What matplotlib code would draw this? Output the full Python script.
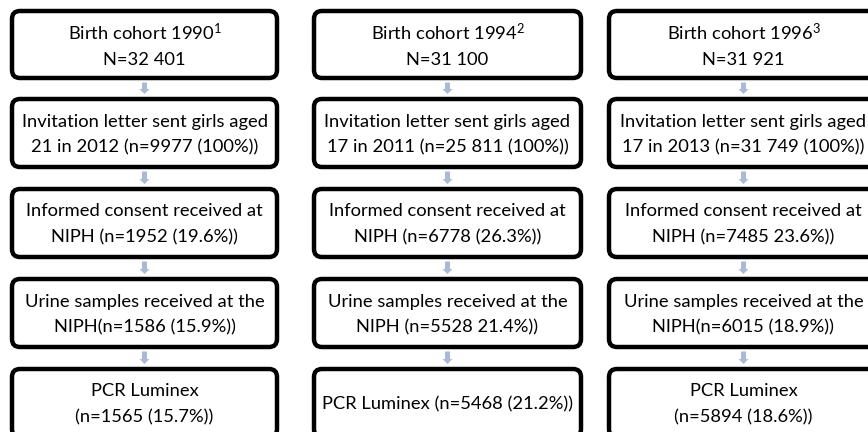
import matplotlib
matplotlib.use("Agg")
import matplotlib.pyplot as plt
from matplotlib.patches import FancyBboxPatch, FancyArrow

plt.rcParams["mathtext.fontset"] = "custom"
plt.rcParams["mathtext.rm"] = "Lato"
plt.rcParams["mathtext.it"] = "Lato"
plt.rcParams["mathtext.bf"] = "Lato:bold"

# ---- data ----
cohorts = ["Birth cohort 1990$^{1}$", "Birth cohort 1994$^{2}$", "Birth cohort 1996$^{3}$"]
cohort_n = ["N=32 401", "N=31 100", "N=31 921"]
invitations = [["Invitation letter sent girls aged", "21 in 2012 (n=9977 (100%))"],
               ["Invitation letter sent girls aged", "17 in 2011 (n=25 811 (100%))"],
               ["Invitation letter sent girls aged", "17 in 2013 (n=31 749 (100%))"]]
consents = [["Informed consent received at", "NIPH (n=1952 (19.6%))"],
            ["Informed consent received at", "NIPH (n=6778 (26.3%))"],
            ["Informed consent received at", "NIPH (n=7485 23.6%))"]]
urine = [["Urine samples received at the", "NIPH(n=1586 (15.9%))"],
         ["Urine samples received at the", "NIPH (n=5528 21.4%))"],
         ["Urine samples received at the", "NIPH(n=6015 (18.9%))"]]
pcr = [["PCR Luminex", "(n=1565 (15.7%))"],
       ["PCR Luminex (n=5468 (21.2%))"],
       ["PCR Luminex", "(n=5894 (18.6%))"]]

# ---- layout ----
W, H = 868, 432
fig = plt.figure(figsize=(W / 100, H / 100), dpi=100)
ax = fig.add_axes([0, 0, 1, 1])
ax.set_xlim(0, W)
ax.set_ylim(H, 0)
ax.axis("off")

col_x = [(12, 277), (314, 581), (609, 878)]
row_y = [(11, 78), (99, 167), (189, 257), (279, 347), (369, 437)]
FONT = "Lato"
FS = 13.2
arrow_color = "#A8BAD8"

rows = [[[c, n] for c, n in zip(cohorts, cohort_n)], invitations, consents, urine, pcr]

for ci, (x0, x1) in enumerate(col_x):
    cx = (x0 + x1) / 2
    for ri, (y0, y1) in enumerate(row_y):
        box = FancyBboxPatch((x0, y0), x1 - x0, y1 - y0,
                             boxstyle="round,pad=0,rounding_size=8",
                             linewidth=3.2, edgecolor="black", facecolor="white",
                             zorder=2)
        ax.add_patch(box)
        lines = rows[ri][ci]
        cy = (y0 + y1) / 2
        spacing = 28 if ri == 0 else 26
        n = len(lines)
        for li, txt in enumerate(lines):
            ty = cy + (li - (n - 1) / 2) * spacing
            ax.text(cx, ty, txt, ha="center", va="center_baseline", fontsize=FS,
                    family=FONT, color="black", zorder=3)
        if ri < len(row_y) - 1:
            ny0 = row_y[ri + 1][0]
            ya = y1 + 4.5
            ax.add_patch(FancyArrow(cx, ya, 0, (ny0 - 5) - ya, width=5,
                                    head_width=10, head_length=5,
                                    length_includes_head=True,
                                    color=arrow_color, linewidth=0, zorder=1))

fig.savefig("out.png", dpi=100)
